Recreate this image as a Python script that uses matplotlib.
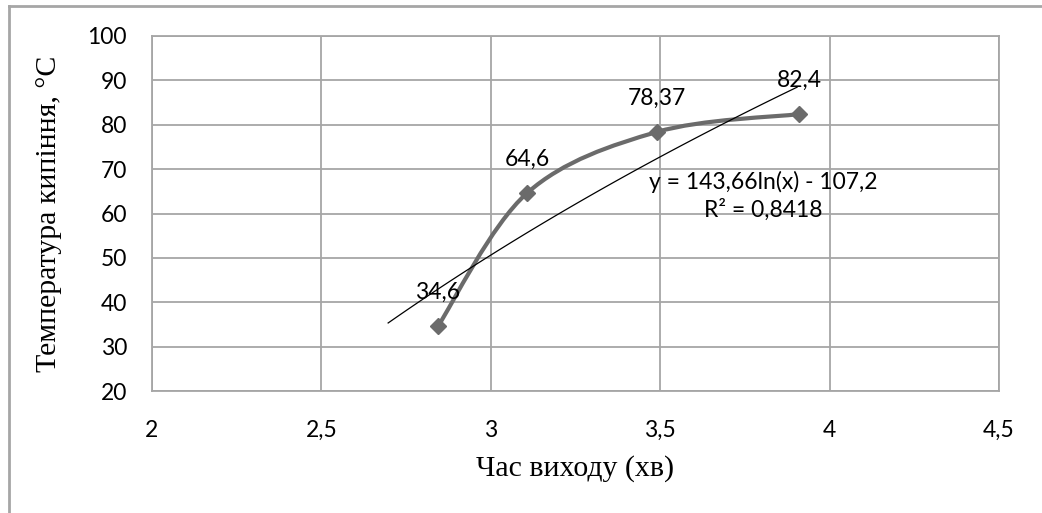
import numpy as np
import matplotlib
matplotlib.use("Agg")
import matplotlib.pyplot as plt
from matplotlib.path import Path
from matplotlib.patches import PathPatch
from matplotlib.lines import Line2D

# дані
t_vyhodu = np.array([2.844, 3.107, 3.49, 3.91])
t_kyp = np.array([34.6, 64.6, 78.37, 82.4])
pidpysy = ["34,6", "64,6", "78,37", "82,4"]
xticks = [2, 2.5, 3, 3.5, 4, 4.5]
xtick_labels = ["2", "2,5", "3", "3,5", "4", "4,5"]
yticks = [20, 30, 40, 50, 60, 70, 80, 90, 100]

# лінія тренду y = a*ln(x) + b
a_tr, b_tr = 143.66, -107.2
x_tr = np.array([2.697, 3.904])
tr_text = "y = 143,66ln(x) - 107,2\nR² = 0,8418"

fnt = ["Lato", "DejaVu Sans"]
fs = 16.5

fig = plt.figure(figsize=(10.42, 5.13), dpi=100)
ax = fig.add_axes([152/1042, 1 - 391/513, (999-152)/1042, (391-36)/513])

ax.set_xlim(2, 4.5)
ax.set_ylim(20, 100)
ax.set_xticks(xticks)
ax.set_xticklabels(xtick_labels)
ax.set_yticks(yticks)
ax.grid(True, color="#a6a6a6", linewidth=1.3)
ax.set_axisbelow(True)
for s in ax.spines.values():
    s.set_color("#a6a6a6")
    s.set_linewidth(1.3)
ax.tick_params(length=0, labelsize=fs, colors="black")
ax.tick_params(axis="y", pad=18)
ax.tick_params(axis="x", pad=21)
for lab in ax.get_xticklabels() + ax.get_yticklabels():
    lab.set_family(fnt)

# згладжена крива (як в Excel) через криві Безьє
p = np.column_stack([t_vyhodu, t_kyp])
pp = np.vstack([p[0], p, p[-1]])
verts = [tuple(p[0])]
codes = [Path.MOVETO]
for i in range(1, len(pp) - 2):
    c1 = pp[i] + (pp[i+1] - pp[i-1]) / 6
    c2 = pp[i+1] - (pp[i+2] - pp[i]) / 6
    verts += [tuple(c1), tuple(c2), tuple(pp[i+1])]
    codes += [Path.CURVE4] * 3
ax.add_patch(PathPatch(Path(verts, codes), facecolor="none",
                       edgecolor="#6b6b6b", linewidth=3, zorder=3))
ax.plot(t_vyhodu, t_kyp, linestyle="none", marker="D", markersize=8,
        color="#6b6b6b", zorder=4)

xx = np.linspace(x_tr[0], x_tr[1], 100)
ax.plot(xx, a_tr * np.log(xx) + b_tr, color="black", linewidth=0.9, zorder=3)

for x, y, s in zip(t_vyhodu, t_kyp, pidpysy):
    ax.annotate(s, (x, y), xytext=(0, 34), textcoords="offset pixels",
                ha="center", va="center", fontsize=fs, family=fnt, zorder=5)

ax.text(3.805, 64.0, tr_text, ha="center", va="center", fontsize=fs,
        family=fnt, linespacing=1.35, zorder=5)

ax.set_xlabel("Час виходу (хв)", family="Liberation Serif", fontsize=21.5,
              labelpad=10)
ax.set_ylabel("Температура кипіння, °С", family="Liberation Serif",
              fontsize=21.5, labelpad=18)

# рамка діаграми
fig.add_artist(Line2D([9/1042, 9/1042], [0, 1 - 6/513], color="#a6a6a6",
                      linewidth=2, transform=fig.transFigure))
fig.add_artist(Line2D([9/1042, 1], [1 - 6/513, 1 - 6/513], color="#a6a6a6",
                      linewidth=2, transform=fig.transFigure))

fig.savefig("out.png", dpi=100)
